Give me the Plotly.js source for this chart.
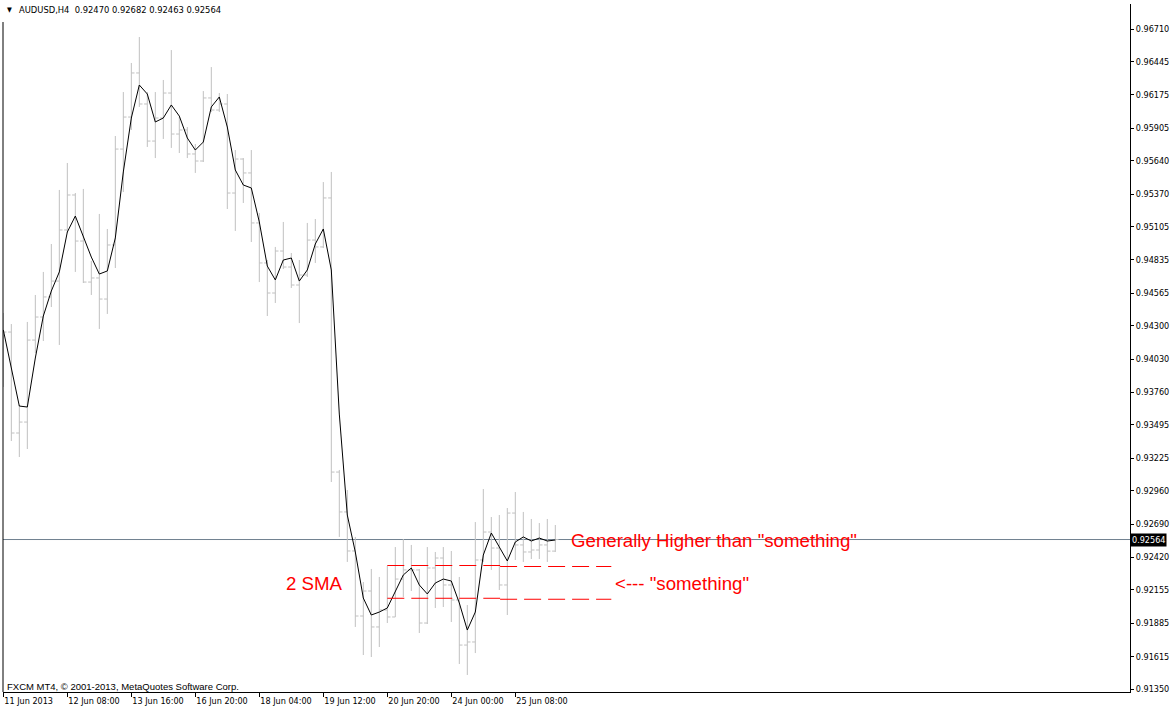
<!DOCTYPE html>
<html><head><meta charset="utf-8">
<script src="https://cdn.plot.ly/plotly-3.0.1.min.js"></script>
<style>html,body{margin:0;padding:0;background:#fff;}#chart{width:1173px;height:710px;}</style>
</head><body><div id="chart"></div>
<script>
// ---- data (AUDUSD H4) ----
const barIndex = [0,1,2,3,4,5,6,7,8,9,10,11,12,13,14,15,16,17,18,19,20,21,22,23,24,25,26,27,28,29,30,31,32,33,34,35,36,37,38,39,40,41,42,43,44,45,46,47,48,49,50,51,52,53,54,55,56,57,58,59,60,61,62,63,64,65,66,67,68,69];
const opens = [0.94103,0.94249,0.93429,0.93518,0.94184,0.94371,0.94534,0.94663,0.95078,0.95362,
0.94988,0.94655,0.94688,0.94517,0.94956,0.95735,0.95995,0.96353,0.96101,0.95800,
0.95987,0.96190,0.95857,0.95890,0.95695,0.95638,0.96150,0.96052,0.96101,0.95378,
0.95654,0.95541,0.95135,0.94810,0.94566,0.94907,0.94777,0.94631,0.94712,0.94996,
0.94940,0.95338,0.93112,0.92788,0.92471,0.91943,0.92146,0.91854,0.91992,0.91935,
0.92243,0.92317,0.92317,0.91886,0.92333,0.92414,0.92195,0.92073,0.91707,0.91732,
0.92398,0.92625,0.92495,0.92195,0.92779,0.92520,0.92463,0.92479,0.92520,0.92470];
const highs = [0.94404,0.94314,0.93657,0.94331,0.94550,0.94737,0.94964,0.95403,0.95622,0.95378,
0.95411,0.94826,0.95208,0.95086,0.95841,0.96198,0.96434,0.96645,0.96198,0.96198,
0.96296,0.96539,0.95995,0.95914,0.95776,0.96206,0.96401,0.96190,0.96182,0.95727,
0.95662,0.95727,0.95216,0.94834,0.94940,0.95143,0.94891,0.94834,0.95135,0.95167,
0.95467,0.95549,0.93129,0.92966,0.92585,0.92219,0.92325,0.92260,0.92349,0.92503,
0.92568,0.92520,0.92325,0.92503,0.92463,0.92503,0.92471,0.92260,0.92032,0.92706,
0.92974,0.92747,0.92763,0.92820,0.92950,0.92788,0.92731,0.92698,0.92731,0.92682];
const lows = [0.93803,0.93364,0.93234,0.93299,0.94079,0.94176,0.94452,0.94144,0.95053,0.94737,
0.94647,0.94550,0.94274,0.94396,0.94769,0.95386,0.95890,0.96077,0.95752,0.95662,
0.95817,0.95744,0.95703,0.95662,0.95541,0.95630,0.96036,0.96036,0.95248,0.95070,
0.95297,0.94980,0.94655,0.94379,0.94485,0.94761,0.94607,0.94322,0.94696,0.94810,
0.94931,0.93031,0.92585,0.92382,0.91854,0.91626,0.91610,0.91691,0.91886,0.91935,
0.92097,0.92146,0.91805,0.91878,0.92008,0.92016,0.91894,0.91553,0.91464,0.91642,
0.92382,0.92317,0.92154,0.91951,0.92398,0.92382,0.92406,0.92406,0.92382,0.92463];
const closes = [0.94249,0.93429,0.93518,0.94184,0.94371,0.94534,0.94663,0.95078,0.95362,0.94988,
0.94655,0.94688,0.94517,0.94956,0.95735,0.95995,0.96353,0.96101,0.95800,0.95987,
0.96190,0.95857,0.95890,0.95695,0.95638,0.96150,0.96052,0.96101,0.95378,0.95654,
0.95541,0.95135,0.94810,0.94566,0.94907,0.94777,0.94631,0.94712,0.94996,0.94940,
0.95338,0.93112,0.92788,0.92471,0.91943,0.92146,0.91854,0.91992,0.91935,0.92243,
0.92317,0.92317,0.91886,0.92333,0.92414,0.92195,0.92073,0.91707,0.91732,0.92398,
0.92625,0.92495,0.92195,0.92779,0.92520,0.92463,0.92479,0.92520,0.92470,0.92564];
const sma2 = [0.94266,0.93957,0.93648,0.93640,0.94038,0.94379,0.94582,0.94737,0.95061,0.95191,
0.95029,0.94858,0.94720,0.94745,0.95013,0.95549,0.95987,0.96255,0.96182,0.95955,
0.95987,0.96093,0.96003,0.95825,0.95727,0.95792,0.96077,0.96158,0.95914,0.95565,
0.95443,0.95419,0.95143,0.94785,0.94672,0.94834,0.94850,0.94663,0.94753,0.94964,
0.95086,0.94753,0.93583,0.92763,0.92463,0.92089,0.91951,0.91975,0.92008,0.92138,
0.92276,0.92333,0.92195,0.92122,0.92211,0.92243,0.92227,0.92049,0.91829,0.91975,
0.92438,0.92617,0.92503,0.92390,0.92544,0.92585,0.92552,0.92576,0.92552,0.92560];

const xTickBars = [0,8,16,24,32,40,48,56,64];
const xTickLabels = ["11 Jun 2013","12 Jun 08:00","13 Jun 16:00","16 Jun 20:00","18 Jun 04:00","19 Jun 12:00","20 Jun 20:00","24 Jun 00:00","25 Jun 08:00"];
const yTickValues = [0.96710,0.96445,0.96175,0.95905,0.95640,0.95370,0.95105,0.94835,0.94565,0.94300,0.94030,0.93760,0.93495,0.93225,0.92960,0.92690,0.92420,0.92155,0.91885,0.91615,0.91350];
const yTickLabels = ["0.96710","0.96445","0.96175","0.95905","0.95640","0.95370","0.95105","0.94835","0.94565","0.94300","0.94030","0.93760","0.93495","0.93225","0.92960","0.92690","0.92420","0.92155","0.91885","0.91615","0.91350"];
const headerText = "AUDUSD,H4\u00a0\u00a00.92470 0.92682 0.92463 0.92564";
const copyrightText = "FXCM MT4, \u00a9 2001-2013, MetaQuotes Software Corp.";
// the two hand-drawn "something" levels (upper, lower), each drawn as two pieces
const levelSegments = [
  {x0:48.0, x1:62.1, y:0.92353}, {x0:62.1, x1:76.0, y:0.92345},
  {x0:48.0, x1:62.1, y:0.92087}, {x0:62.1, x1:76.0, y:0.92079}
];

const uiFont = "'DejaVu Sans Condensed', 'Liberation Sans', sans-serif";
const redFont = "'Liberation Sans', Arial, sans-serif";
const lastPrice = closes[closes.length-1];
const lastLabel = lastPrice.toFixed(5);

const traces = [
  {type:'ohlc', x:barIndex, open:opens, high:highs, low:lows, close:closes,
   increasing:{line:{color:'#c0c0c0', width:1}}, decreasing:{line:{color:'#c0c0c0', width:1}},
   tickwidth:0.4, hoverinfo:'skip', showlegend:false},
  {type:'scatter', mode:'lines', x:barIndex, y:sma2, line:{color:'#000', width:1}, hoverinfo:'skip', showlegend:false}
];

const shapes = [
  {type:'line', xref:'paper', yref:'y', x0:0, x1:1, y0:lastPrice, y1:lastPrice, line:{color:'#708090', width:1}, layer:'below'},
  {type:'line', xref:'paper', yref:'paper', x0:0, x1:0, y0:0, y1:0.9738, line:{color:'#000', width:1}}
];
levelSegments.forEach(s => shapes.push({type:'line', xref:'x', yref:'y', x0:s.x0, x1:s.x1, y0:s.y, y1:s.y,
  line:{color:'#ff0000', width:1, dash:'17px,7px'}}));

const annotations = [
  {xref:'paper', yref:'paper', x:0.0018, y:0.9913, xanchor:'left', yanchor:'middle', showarrow:false,
   text:'\u25bc', font:{family:uiFont, size:7, color:'#000'}},
  {xref:'paper', yref:'paper', x:0.0124, y:0.9913, xanchor:'left', yanchor:'middle', showarrow:false,
   text:headerText, font:{family:uiFont, size:9.3, color:'#000'}},
  {xref:'paper', yref:'paper', x:0.0018, y:0.008, xanchor:'left', yanchor:'middle', showarrow:false,
   text:copyrightText, font:{family:redFont, size:9.5, color:'#000'}},
  {xref:'paper', yref:'y', x:1, y:lastPrice, xanchor:'left', yanchor:'middle', showarrow:false,
   text:lastLabel, bgcolor:'#000', borderpad:1, font:{family:uiFont, size:9, color:'#fff'}},
  {xref:'x', yref:'y', x:70.71, y:0.92560, xanchor:'left', yanchor:'middle', showarrow:false,
   text:'Generally Higher than "something"', font:{family:redFont, size:18.67, color:'#ff0000'}},
  {xref:'x', yref:'y', x:35.09, y:0.92207, xanchor:'left', yanchor:'middle', showarrow:false,
   text:'2 SMA', font:{family:redFont, size:18.67, color:'#ff0000'}},
  {xref:'x', yref:'y', x:76.21, y:0.92207, xanchor:'left', yanchor:'middle', showarrow:false,
   text:'&lt;--- "something"', font:{family:redFont, size:18.67, color:'#ff0000'}}
];

const layout = {
  width:1173, height:710, margin:{l:3, r:43, t:4, b:18, pad:0},
  paper_bgcolor:'#ffffff', plot_bgcolor:'#ffffff', showlegend:false,
  font:{family:uiFont, size:9, color:'#000'},
  xaxis:{range:[-0.04, 140.84], showgrid:false, zeroline:false, showline:true, linecolor:'#000', linewidth:1,
    ticks:'outside', ticklen:4, tickcolor:'#000', tickwidth:1, tickvals:xTickBars, ticktext:xTickLabels,
    ticklabelposition:'outside right', tickfont:{family:uiFont, size:9, color:'#000'},
    rangeslider:{visible:false}, fixedrange:true},
  yaxis:{side:'right', range:[0.913258, 0.96913], showgrid:false, zeroline:false, showline:true,
    linecolor:'#000', linewidth:1, ticks:'outside', ticklen:3, tickcolor:'#000', tickwidth:1,
    tickvals:yTickValues, ticktext:yTickLabels, tickfont:{family:uiFont, size:9, color:'#000'}, fixedrange:true},
  shapes:shapes, annotations:annotations
};

Plotly.newPlot('chart', traces, layout, {staticPlot:true, displayModeBar:false});
</script>
</body></html>
